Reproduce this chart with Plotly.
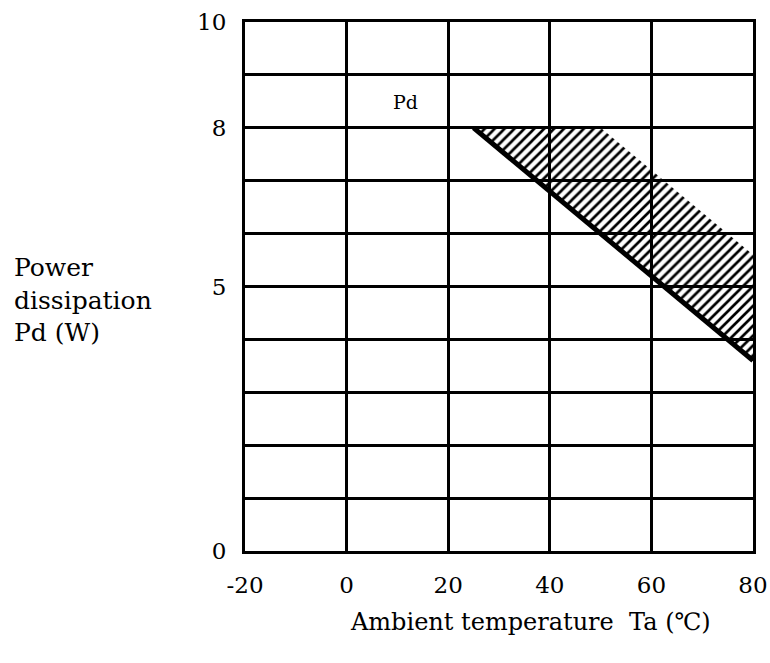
import plotly.graph_objects as go

# Data
area_x = [25, 50, 80, 80, 25]
area_y = [8.0, 8.0, 5.6, 3.6, 8.0]
lower_x = [25, 80]
lower_y = [8.0, 3.6]
x_ticks = [-20, 0, 20, 40, 60, 80]
x_labels = ["-20", "0", "20", "40", "60", "80"]
y_grid = list(range(0, 11))
y_labels = {0: "0", 5: "5", 8: "8", 10: "10"}

FONT = "DejaVu Serif"
L, R, T, B = 245, 17, 22, 112
W, H = 770, 663
PW, PH = W - L - R, H - T - B

fig = go.Figure()
fig.add_trace(go.Scatter(
    x=area_x, y=area_y, mode="lines", fill="toself",
    line=dict(width=0, color="rgba(0,0,0,0)"),
    fillcolor="rgba(0,0,0,0)",
    fillpattern=dict(shape="/", fgcolor="black", bgcolor="rgba(0,0,0,0)",
                     size=7, solidity=0.38, fillmode="replace"),
    hoverinfo="skip", showlegend=False,
))
fig.add_trace(go.Scatter(
    x=lower_x, y=lower_y, mode="lines",
    line=dict(width=5, color="black"),
    showlegend=False,
))

fig.add_annotation(x=11.5, y=8.49, text="Pd", showarrow=False,
                   font=dict(family=FONT, size=19, color="black"))
fig.add_annotation(xref="paper", yref="paper", x=(12 - L) / PW, y=(H - B - 300) / PH,
                   xanchor="left", yanchor="middle", align="left",
                   text="Power<br>dissipation<br>Pd (W)", showarrow=False,
                   font=dict(family=FONT, size=25, color="black"))
fig.add_annotation(xref="paper", yref="paper", x=(530 - L) / PW, y=-(622 - (H - B)) / PH,
                   xanchor="center", yanchor="middle",
                   text="Ambient temperature  Ta (℃)", showarrow=False,
                   font=dict(family=FONT, size=24, color="black"))

fig.update_layout(
    width=W, height=H,
    margin=dict(l=L, r=R, t=T, b=B),
    plot_bgcolor="white", paper_bgcolor="white",
    font=dict(family=FONT, size=23, color="black"),
    xaxis=dict(range=[-20, 80], tickvals=x_ticks, ticktext=x_labels, showgrid=True,
               gridcolor="black", gridwidth=3, showline=True, linecolor="black",
               linewidth=3, mirror=True, zeroline=False, ticks="",
               ticklabelstandoff=11, automargin=False),
    yaxis=dict(range=[0, 10], tickvals=y_grid,
               ticktext=[y_labels.get(v, "") for v in y_grid],
               showgrid=True, gridcolor="black", gridwidth=3, showline=True,
               linecolor="black", linewidth=3, mirror=True, zeroline=False,
               ticks="", ticklabelstandoff=11, automargin=False),
)

fig.write_html("out.html", config={"displayModeBar": False},
               post_script="document.body.style.margin='0';document.body.style.overflow='hidden';")
